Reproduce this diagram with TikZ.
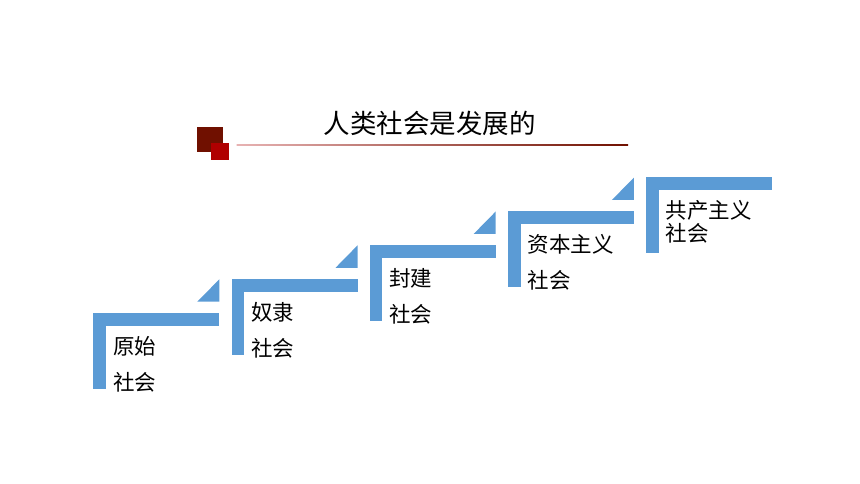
\documentclass[tikz,border=0pt]{standalone}
\usepackage{fontspec}
\usepackage{xcolor}
\newfontfamily\cjk{Noto Sans CJK SC}
\definecolor{stepblue}{HTML}{5B9BD5}
\definecolor{darkbrick}{HTML}{701000}
\definecolor{brickred}{HTML}{B00000}

\begin{document}
\begin{tikzpicture}[x=1pt,y=-1pt,
    steptext/.style={anchor=west,inner sep=0pt,font=\cjk\fontsize{21.5}{24}\selectfont}]
        \useasboundingbox (0,0) rectangle (860,484);

        % 标题与装饰方块
        \node[font=\cjk\fontsize{26.5}{30}\selectfont] (title) at (429.5,123.3) {人类社会是发展的};
        \fill[darkbrick] (197.3,126.7) rectangle (222.7,152.3);
        \fill[brickred] (211,142.7) rectangle (229,160);
        \shade[left color=brickred!30, right color=darkbrick] (236.7,144.6) rectangle (628,145.6);

        % 绘制五级台阶
        \foreach \i/\up/\dn/\gap in {0/原始/社会/36, 1/奴隶/社会/36, 2/封建/社会/36, 3/资本主义/社会/36, 4/共产主义/社会/23} {
            \pgfmathsetmacro\x{93.3+138.2*\i}
            \pgfmathsetmacro\y{312.7-33.9*\i}
            \fill[stepblue] (\x,\y) rectangle ++(12.7,76);
            \fill[stepblue] (\x,\y) rectangle ++(126,13.3);
            \ifnum\i<4
                \fill[stepblue] (\x+104,\y-11) -- (\x+126,\y-11) -- (\x+126,\y-33.4) -- cycle;
            \fi
            \node[steptext] (up\i) at (\x+19.5,\y+33.5) {\up};
            \node[steptext] (dn\i) at (\x+19.5,\y+33.5+\gap) {\dn};
        }
    \end{tikzpicture}
\end{document}
